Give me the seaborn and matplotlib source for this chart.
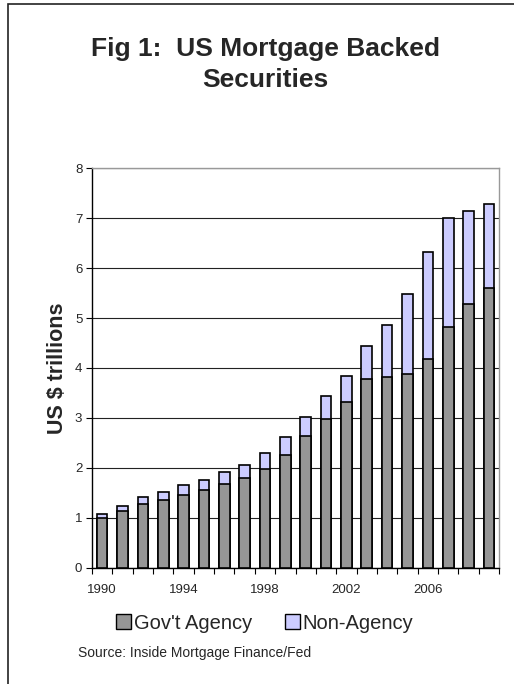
import numpy as np
import pandas as pd
import matplotlib
matplotlib.use("Agg")
import matplotlib.pyplot as plt
from matplotlib.patches import Rectangle, Patch
import seaborn as sns

years = list(range(1990, 2010))
govt_agency = [1.00, 1.14, 1.27, 1.35, 1.45, 1.55, 1.68, 1.79, 1.98, 2.26, 2.63, 2.97,
               3.31, 3.77, 3.81, 3.88, 4.18, 4.83, 5.29, 5.60]
non_agency = [0.07, 0.10, 0.14, 0.17, 0.21, 0.20, 0.24, 0.27, 0.31, 0.35, 0.38, 0.47,
              0.53, 0.68, 1.05, 1.61, 2.15, 2.17, 1.86, 1.68]
tick_years = [1990, 1994, 1998, 2002, 2006]

df = pd.DataFrame({"year": [str(y) for y in years],
                   "govt": govt_agency,
                   "non": non_agency})
df["total"] = df["govt"] + df["non"]

sns.set_theme(style="white")
plt.rcParams["font.family"] = ["Liberation Sans", "DejaVu Sans"]

GOVT_C = "#969696"
NON_C = "#ccccff"

fig = plt.figure(figsize=(5.14, 6.84), dpi=100)
ax = fig.add_axes([0.179, 0.170, 0.792, 0.584])

# stacked bars: the full height in lavender, the agency part over it in grey
sns.barplot(data=df, x="year", y="total", color=NON_C, saturation=1, width=0.52,
            edgecolor="black", linewidth=1.2, ax=ax, zorder=3)
sns.barplot(data=df, x="year", y="govt", color=GOVT_C, saturation=1, width=0.52,
            edgecolor="black", linewidth=1.2, ax=ax, zorder=4)

ax.set_ylim(0, 8)
ax.set_xlim(-0.5, len(years) - 0.5)
ax.set_yticks(range(0, 9))
ax.set_yticklabels([str(v) for v in range(0, 9)], fontsize=9.5)
ax.yaxis.grid(True, color="#222222", linewidth=0.8)
ax.set_axisbelow(True)

pos = [years.index(y) for y in tick_years]
ax.set_xticks(pos)
ax.set_xticklabels([str(y) for y in tick_years], fontsize=9.5)
ax.set_xticks(np.arange(-0.5, len(years), 1.0), minor=True)
ax.tick_params(axis="x", which="major", length=0, pad=12)
ax.tick_params(axis="x", which="minor", length=4, width=0.8, color="black", direction="out", bottom=True)
ax.tick_params(axis="y", length=4, width=0.8, color="black", direction="out", left=True, pad=3)

ax.set_xlabel("")
ax.set_ylabel("US $ trillions", fontsize=15.5, fontweight="bold", labelpad=5)

for side in ["left", "bottom"]:
    ax.spines[side].set_color("black")
    ax.spines[side].set_linewidth(1.0)
for side in ["top", "right"]:
    ax.spines[side].set_color("#999999")
    ax.spines[side].set_linewidth(1.0)

fig.text(0.517, 0.906, "Fig 1:  US Mortgage Backed\nSecurities", ha="center", va="center",
         fontsize=19, fontweight="bold", linespacing=1.35)

handles = [Patch(facecolor=GOVT_C, edgecolor="black", label="Gov't Agency"),
           Patch(facecolor=NON_C, edgecolor="black", label="Non-Agency")]
fig.legend(handles=handles, loc="center", bbox_to_anchor=(0.515, 0.089), ncol=2,
           frameon=False, fontsize=14.5, handlelength=0.75, handleheight=0.75,
           handletextpad=0.15, columnspacing=1.6)

fig.text(0.152, 0.045, "Source: Inside Mortgage Finance/Fed", ha="left", va="center", fontsize=10)

fig.patches.append(Rectangle((8 / 514, -0.1), 1.2, 1.1 - 4 / 684, transform=fig.transFigure,
                             fill=False, edgecolor="#222222", linewidth=1.2))

fig.savefig("out.png", dpi=100)
